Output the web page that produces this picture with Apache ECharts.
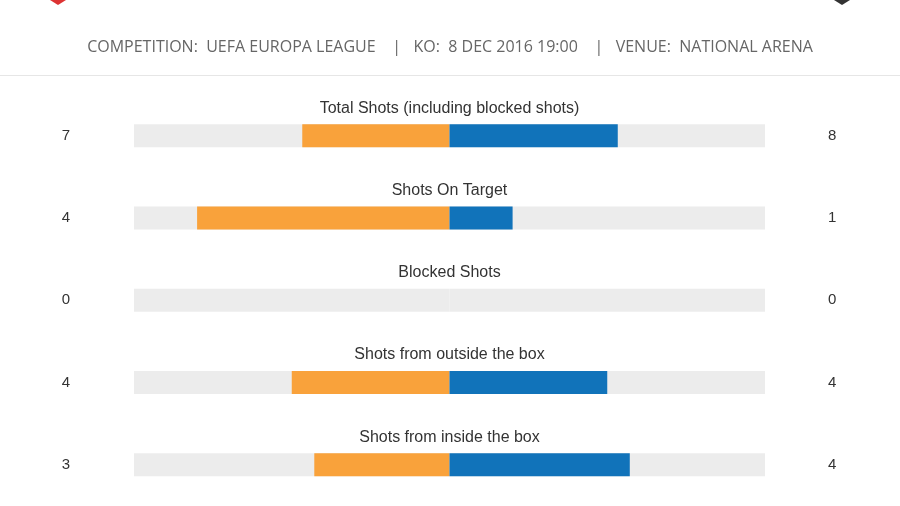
<!DOCTYPE html>
<html><head><meta charset="utf-8">
<script src="https://cdn.jsdelivr.net/npm/echarts@6/dist/echarts.min.js"></script>
<style>html,body{margin:0;padding:0;background:#fff}#c{width:900px;height:506px}</style>
</head><body><div id="c"></div>
<script>
const categories = ["Total Shots (including blocked shots)","Shots On Target","Blocked Shots","Shots from outside the box","Shots from inside the box"];
const homeValues = [7,4,0,4,3];
const awayValues = [8,1,0,4,4];
const headerText = "COMPETITION:  UEFA EUROPA LEAGUE    |   KO:  8 DEC 2016 19:00    |   VENUE:  NATIONAL ARENA";

const homeShare = homeValues.map((h,i)=>{const t=h+awayValues[i];return t?-h/t:0;});
const awayShare = awayValues.map((a,i)=>{const t=homeValues[i]+a;return t?a/t:0;});
const bg = categories.map(()=>1);
const chart = echarts.init(document.getElementById('c'));
const lbl = {fontFamily:'Liberation Sans, Arial', color:'#333'};
chart.setOption({
  animation:false,
  graphic:[
    {type:'text',left:'center',top:39,style:{text:headerText,fontFamily:'Open Sans',fontSize:16,fill:'#666'}},
    {type:'rect',shape:{x:0,y:75,width:900,height:1},style:{fill:'#e6e6e6'}},
    {type:'polygon',shape:{points:[[50,0],[66,0],[58,5]]},style:{fill:'#d33'}},
    {type:'polygon',shape:{points:[[834,0],[850,0],[842,5]]},style:{fill:'#333'}}
  ],
  grid:{left:134,right:135,top:94.5,height:415},
  xAxis:{type:'value',min:-1,max:1,show:false},
  yAxis:{type:'category',data:categories,inverse:true,show:false},
  series:[
    {type:'bar',data:bg.map(v=>[-1,0]).map(()=>-1),barWidth:23,barGap:'-100%',itemStyle:{color:'#ececec'},silent:true,
      label:{show:true,position:'left',distance:64,formatter:p=>homeValues[p.dataIndex],fontSize:15,...lbl}},
    {type:'bar',data:bg,barWidth:23,barGap:'-100%',itemStyle:{color:'#ececec'},silent:true,
      label:{show:true,position:'right',distance:63,formatter:p=>awayValues[p.dataIndex],fontSize:15,...lbl}},
    {type:'bar',data:bg.map(()=>0),barWidth:23,barGap:'-100%',itemStyle:{color:'transparent'},silent:true,
      label:{show:true,position:'top',distance:8,formatter:p=>categories[p.dataIndex],fontSize:16,...lbl}},
    {type:'bar',stack:'s',data:homeShare,barWidth:23,barGap:'-100%',itemStyle:{color:'#f9a23b'}},
    {type:'bar',stack:'s',data:awayShare,barWidth:23,barGap:'-100%',itemStyle:{color:'#1173ba'}}
  ]
});
</script></body></html>
